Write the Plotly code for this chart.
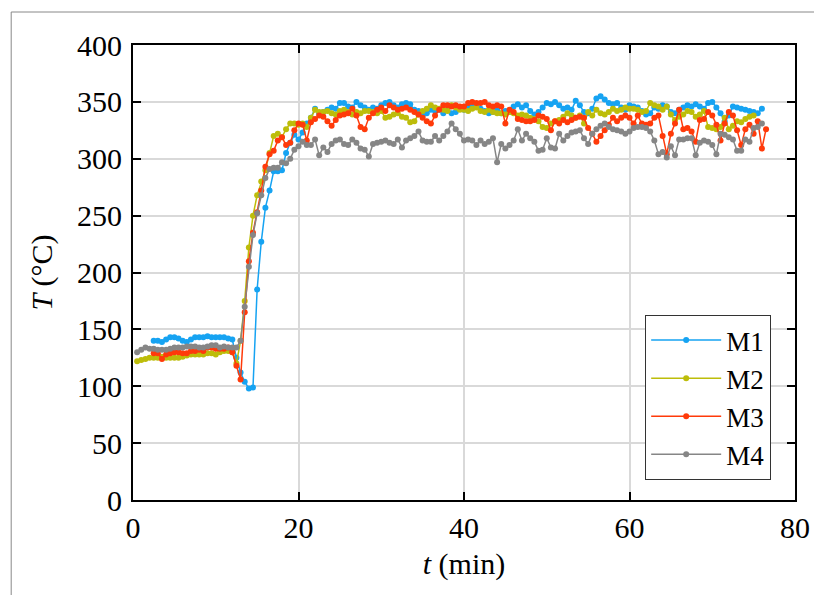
import plotly.graph_objects as go

# ---- data (temperature readings, 0.5 min sampling) ----
m1_start = 2.5
m1 = [140,140,139,141,143,143,142,140,139,141,143,143,143,144,143,143,143,143,142,141,125,112,104,98,99,
      185,227,257,272,289,289,290,305,314,321,317,323,331,336,344,
      340,341,343,345,344,349,349,346,345,350,347,345,343,345,344,347,349,350,347,345,348,349,348,343,342,338,340,343,342,343,340,343,340,341,344,343,345,346,347,
      344,342,340,341,343,340,342,341,346,348,345,347,342,339,341,345,349,348,350,347,344,345,343,351,347,341,340,344,353,355,352,349,348,349,
      345,343,347,346,345,342,339,340,345,344,347,346,341,340,343,345,347,346,348,346,344,349,350,345,340,333,338,346,345,344,343,342,341,340,344]

m2_start = 0.5
m2 = [122,123,124,125,125,125,126,125,125,125,125,126,127,128,128,128,128,129,129,128,130,131,131,130,120,
      140,175,222,250,268,280,290,305,320,322,319,326,331,331,330,331,328,336,343,341,
      341,342,340,339,342,343,341,339,341,340,342,342,341,340,342,336,337,339,340,337,336,332,333,339,342,344,347,345,344,343,342,347,345,343,343,342,344,345,
      342,341,343,341,340,340,339,341,340,338,339,338,336,335,333,328,327,331,333,334,337,340,338,336,338,331,341,338,343,340,339,341,344,342,
      343,345,344,344,343,341,342,349,347,346,343,346,339,334,337,339,342,341,337,339,342,328,327,326,328,336,326,329,333,332,335,337,338]

m3_start = 2.5
m3 = [129,129,124,128,129,130,130,129,129,131,131,132,131,134,134,133,133,133,134,130,118,
      106,165,210,235,253,272,293,304,307,316,319,312,314,325,331,330,316,332,335,338,
      337,333,329,334,338,339,340,344,338,328,326,336,340,343,345,342,347,345,343,344,345,343,341,339,336,333,331,338,343,347,347,346,347,346,346,349,350,349,
      349,350,347,346,347,346,331,343,341,335,334,333,333,334,338,337,335,325,333,331,334,332,334,336,337,336,327,322,315,320,325,330,336,333,
      336,338,336,331,338,331,330,331,336,338,320,304,322,331,343,326,327,324,315,334,335,341,338,330,316,331,341,338,325,312,326,330,322,333,309,326]

m4_start = 0.5
m4 = [130,132,134,133,133,132,132,132,133,134,134,134,135,135,135,134,134,135,136,136,134,135,134,134,134,140,
      170,205,233,252,268,283,291,292,292,297,296,300,308,311,315,312,312,317,303,
      310,306,313,316,317,313,312,317,314,309,308,302,313,314,315,316,314,313,317,310,316,318,320,324,316,315,315,320,316,320,324,331,326,322,316,317,316,312,
      316,313,315,318,297,313,309,312,316,326,316,322,318,315,307,308,318,310,309,322,316,320,323,324,325,318,313,322,326,329,331,328,326,325,
      324,322,324,327,328,328,327,324,316,304,306,301,311,303,317,317,318,318,303,314,316,315,312,304,322,321,319,317,307,307,317,315,327,328,331]

series_names = ["M1", "M2", "M3", "M4"]
series_vals = [m1, m2, m3, m4]
series_start = [m1_start, m2_start, m3_start, m4_start]
step = 0.5
colors = ["#16a3f2", "#bdbd0a", "#ff3a0a", "#868686"]

x_ticks = [0, 20, 40, 60, 80]
y_ticks = [0, 50, 100, 150, 200, 250, 300, 350, 400]

fig = go.Figure()
for name, vals, st, col in zip(series_names, series_vals, series_start, colors):
    tt = [st + step * i for i in range(len(vals))]
    fig.add_trace(go.Scatter(
        x=tt, y=vals, name=name, mode="lines+markers",
        line=dict(color=col, width=1.5),
        marker=dict(color=col, size=6, symbol="circle"),
    ))

font_family = "Liberation Serif, DejaVu Serif, serif"
axis_common = dict(
    showline=True, linecolor="black", linewidth=2, mirror="ticks",
    ticks="inside", ticklen=8, tickwidth=2, tickcolor="black",
    showgrid=True, gridcolor="#d9d9d9", gridwidth=1.5,
    zeroline=False, automargin=False,
    tickfont=dict(family=font_family, size=30, color="black"),
)

fig.update_layout(
    width=814, height=595,
    paper_bgcolor="white", plot_bgcolor="white",
    margin=dict(l=133, r=19, t=45, b=95, autoexpand=False),
    font=dict(family=font_family, size=30, color="black"),
    xaxis=dict(range=[0, 80], tickvals=x_ticks,
               title=dict(text="<i>t</i> (min)", font=dict(family=font_family, size=30), standoff=10),
               **axis_common),
    yaxis=dict(range=[0, 400], tickvals=y_ticks, ticklabelstandoff=3,
               title=dict(text="<i>T</i> (°C)", font=dict(family=font_family, size=30), standoff=16),
               **axis_common),
    legend=dict(
        x=0.964, y=0.044, xanchor="right", yanchor="bottom",
        bgcolor="white", bordercolor="#333333", borderwidth=1,
        font=dict(family=font_family, size=27, color="black"),
        itemwidth=70,
    ),
    showlegend=True,
    shapes=[dict(type="path", xref="paper", yref="paper",
                 path="M -0.184 -0.3 L -0.184 1.0725 L 1.1 1.0725",
                 line=dict(color="#888888", width=1))],
)

fig.write_html(
    "out.html",
    config={"displayModeBar": False},
    post_script="document.body.style.margin='0';document.body.style.overflow='hidden';",
)
